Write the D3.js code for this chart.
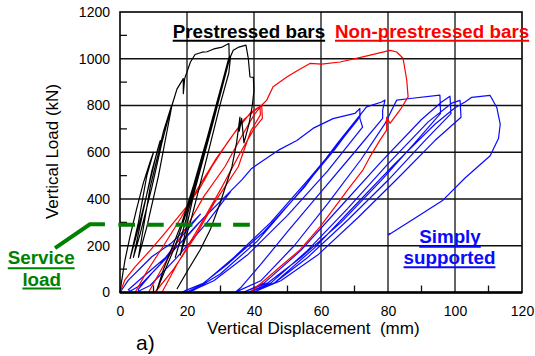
<!DOCTYPE html>
<html>
<head>
<meta charset="utf-8">
<script src="https://cdn.jsdelivr.net/npm/d3@7"></script>
<style>
  html, body { margin: 0; padding: 0; background: #fff; }
  svg { display: block; font-family: "Liberation Sans", Arial, sans-serif; }
</style>
</head>
<body>
<div id="chart"></div>
<script>
// Data: [vertical displacement (mm), vertical load (kN)]
const xTicks = [0, 20, 40, 60, 80, 100, 120];
const yTicks = [0, 200, 400, 600, 800, 1000, 1200];
const xMinorTicks = [10, 30, 50, 70, 90, 110];
const yMinorTicks = [100, 300, 500, 700, 900, 1100];

const serviceLoad = 290;
const serviceSpan = [-0.5, 39];
const serviceLeader = [[-19.4, 190], [-9, 292], [-4.5, 292]];

const prestressedBars = [
  [0, 0], [0.5, 50], [1.5, 140], [3, 240], [5, 360], [7, 470], [9, 560], [10, 600],
  [8, 500], [5.5, 300], [3, 145],
  [5, 250], [8, 420], [11, 600], [12, 650],
  [9.5, 520], [6.5, 320], [4, 150],
  [6, 250], [9.5, 450], [12.5, 640], [15.4, 800],
  [13, 690], [9, 450], [5.5, 150],
  [8, 280], [11.5, 500], [15.5, 800], [17, 870], [18.9, 915], [18.9, 851], [19.3, 915], [21, 985],
  [22.4, 1018], [24.5, 1028], [26, 1030], [28, 1042], [30.5, 1050], [32.5, 1065], [32.6, 1010],
  [30, 870], [26, 660], [22, 460], [18.5, 300], [15.5, 190], [13, 100], [11, 10],
  [13, 80], [16.5, 200], [20, 350], [24, 540], [28, 750], [31.5, 950], [32.8, 1010],
  [29, 800], [25, 580], [21, 380], [18.5, 250], [16.5, 150],
  [19.5, 300], [24, 540], [28, 750], [31.5, 950], [32.8, 1005],
  [28, 740], [22, 420], [18, 160],
  [21, 300], [26, 580], [30, 810], [32.5, 940], [33, 1010], [33.8, 1036], [35.5, 1050], [37.6, 1058],
  [38.3, 1001], [38.8, 922], [39.8, 920], [40, 865], [39.5, 800], [38.5, 720], [37, 640],
  [36.3, 745], [35.6, 690], [35.8, 750], [34.8, 640], [33.4, 537],
  [29.9, 383], [26.9, 267], [23.9, 182], [20.3, 96], [17, 15]
];

const nonPrestressedBars = [
  [0, 0], [1.5, 55], [4.5, 110], [9, 180], [13.4, 254], [19.9, 367], [24, 450], [27.4, 538],
  [32, 640], [37, 740], [41.8, 797], [41.9, 760],
  [39, 690], [35.3, 538], [28, 380], [22.4, 238], [16, 100], [10.4, 0],
  [8.5, 0], [12, 90], [16, 190], [19.9, 281], [25, 410], [31.3, 538], [36, 660], [40, 760],
  [42.3, 801], [42.5, 745],
  [40, 700], [36, 600], [30, 440], [24, 290], [17, 120], [12.5, 0],
  [4.5, 0], [8, 90], [13, 200], [18.4, 324], [23, 440], [28.4, 566], [34, 680], [39, 770],
  [42.3, 801], [43.8, 823], [45.7, 880], [49.8, 922], [53, 950], [56.7, 980], [60.2, 977],
  [65.7, 986], [72.5, 1008], [80.6, 1036], [82.6, 1029], [84.5, 1002], [85.6, 908], [86, 837],
  [83.6, 781], [80.6, 724], [79.6, 750], [79.6, 695], [77.6, 652], [74.6, 580], [72.5, 524],
  [68, 440], [65.7, 395], [59.7, 281], [53.7, 182], [47.8, 110], [43.8, 60], [38.8, 0]
];

const simplySupported = [
  [0, 0], [2.5, 53], [6.5, 110], [9.5, 153], [15.4, 212], [21.4, 297], [24, 335],
  [19, 250], [12, 120], [6, 30], [3, 5], [2.5, 12],
  [7.5, 75], [13.9, 153], [19.9, 238], [25, 320], [27.4, 353], [31.3, 409], [33, 432],
  [26, 300], [17, 150], [9, 30], [5.5, 5], [5.5, 14],
  [10, 90], [16, 180], [23, 290], [31.3, 409], [36.3, 481], [39.3, 531], [43.3, 570], [47.3, 609],
  [52.8, 650], [57.6, 702], [63.6, 744], [70.1, 766], [71.6, 787], [71.6, 745], [72.4, 708],
  [62, 520], [50, 330], [38, 160], [28, 50], [21, 5], [18.5, 0], [19.5, 8],
  [25, 40], [34, 150], [45, 300], [56, 480], [66, 650], [71, 740], [71.8, 760],
  [64, 610], [53, 420], [41, 220], [30, 80], [22, 10], [20, 2],
  [24, 30], [32, 120], [43, 260], [55, 450], [65, 640], [73.6, 794], [78.1, 815], [79.1, 823],
  [78.4, 780], [78.4, 745],
  [70, 600], [60, 430], [50, 260], [42, 120], [36, 20], [34.5, 2], [35.5, 8],
  [42, 50], [52, 200], [62, 380], [72, 570], [79, 720], [82.6, 823], [86.6, 830], [95.5, 844],
  [95.7, 766],
  [88, 640], [78, 480], [66, 300], [54, 150], [44, 40], [37, 2], [38, 8],
  [43, 40], [54, 180], [66, 370], [78, 560], [90, 740], [96, 815], [98.5, 840], [98.8, 765],
  [91, 650], [80, 480], [68, 310], [56, 150], [46, 40], [38.5, 2],
  [45, 40], [56, 180], [68, 360], [80, 550], [92, 730], [99, 810], [101.5, 822], [101.8, 750],
  [94, 650], [83, 490], [71, 320], [59, 160], [48, 50], [40, 2],
  [46, 40], [58, 190], [70, 370], [82, 550], [94, 720], [100, 790], [103, 815], [105, 835],
  [110.5, 843], [112.5, 790], [113.5, 720], [113, 660], [110.5, 585], [103, 490], [96.4, 395],
  [88, 318], [80.1, 246], [80.5, 254]
];

// Dimensions
const dimensions = {
  width: 535,
  height: 356,
  left: 120,
  right: 522,
  top: 12,
  bottom: 292.5,
};

// Draw Image
const svg = d3
  .select("#chart")
  .append("svg")
  .attr("width", dimensions.width)
  .attr("height", dimensions.height);

// Scales
const xScale = d3.scaleLinear().domain([0, 120]).range([dimensions.left, dimensions.right]);
const yScale = d3.scaleLinear().domain([0, 1200]).range([dimensions.bottom, dimensions.top]);

// Grid
const grid = svg.append("g").attr("stroke", "#111").attr("stroke-width", 1.3);
grid
  .selectAll("line.vx")
  .data(xTicks.slice(1, -1))
  .join("line")
  .attr("x1", (d) => xScale(d))
  .attr("x2", (d) => xScale(d))
  .attr("y1", dimensions.top)
  .attr("y2", dimensions.bottom);
grid
  .selectAll("line.hy")
  .data(yTicks.slice(1, -1))
  .join("line")
  .attr("class", "hy")
  .attr("x1", dimensions.left)
  .attr("x2", dimensions.right)
  .attr("y1", (d) => yScale(d))
  .attr("y2", (d) => yScale(d));

// minor ticks
grid
  .selectAll("line.mx")
  .data(xMinorTicks)
  .join("line")
  .attr("class", "mx")
  .attr("x1", (d) => xScale(d))
  .attr("x2", (d) => xScale(d))
  .attr("y1", dimensions.bottom)
  .attr("y2", dimensions.bottom - 7);
grid
  .selectAll("line.my")
  .data(yMinorTicks)
  .join("line")
  .attr("class", "my")
  .attr("x1", dimensions.left)
  .attr("x2", dimensions.left + 7)
  .attr("y1", (d) => yScale(d))
  .attr("y2", (d) => yScale(d));

// Curves
const lineGenerator = d3
  .line()
  .x((d) => xScale(d[0]))
  .y((d) => yScale(d[1]));

const curves = [
  { data: simplySupported, color: "#0a0aff" },
  { data: nonPrestressedBars, color: "#ff0000" },
  { data: prestressedBars, color: "#000000" },
];

svg
  .append("g")
  .selectAll("path")
  .data(curves)
  .join("path")
  .attr("d", (d) => lineGenerator(d.data))
  .attr("fill", "none")
  .attr("stroke", (d) => d.color)
  .attr("stroke-width", 1.2)
  .attr("stroke-linejoin", "round");

// Frame
svg
  .append("rect")
  .attr("x", dimensions.left)
  .attr("y", dimensions.top)
  .attr("width", dimensions.right - dimensions.left)
  .attr("height", dimensions.bottom - dimensions.top)
  .attr("fill", "none")
  .attr("stroke", "#000")
  .attr("stroke-width", 1.6);
svg
  .append("line")
  .attr("x1", dimensions.left)
  .attr("x2", dimensions.right)
  .attr("y1", dimensions.bottom)
  .attr("y2", dimensions.bottom)
  .attr("stroke", "#000")
  .attr("stroke-width", 2.6);

// Service load
svg
  .append("line")
  .attr("x1", xScale(serviceSpan[0]))
  .attr("x2", xScale(serviceSpan[1]))
  .attr("y1", yScale(serviceLoad))
  .attr("y2", yScale(serviceLoad))
  .attr("stroke", "#008000")
  .attr("stroke-width", 4)
  .attr("stroke-dasharray", "16.7,12");
svg
  .append("path")
  .datum(serviceLeader)
  .attr("d", lineGenerator)
  .attr("fill", "none")
  .attr("stroke", "#008000")
  .attr("stroke-width", 4);

// Axes
const xAxis = d3.axisBottom(xScale).tickValues(xTicks).tickSize(0).tickPadding(14);
const yAxis = d3
  .axisLeft(yScale)
  .tickValues(yTicks)
  .tickFormat(d3.format("d"))
  .tickSize(0)
  .tickPadding(10);

const gx = svg.append("g").attr("transform", `translate(0, ${dimensions.bottom})`).call(xAxis);
const gy = svg.append("g").attr("transform", `translate(${dimensions.left}, 0)`).call(yAxis);
[gx, gy].forEach((g) => {
  g.select(".domain").remove();
  g.selectAll("text").attr("font-size", 14).attr("fill", "#000").attr("font-family", null);
});

svg
  .append("text")
  .attr("x", 207)
  .attr("y", 334)
  .attr("font-size", 17)
  .attr("xml:space", "preserve")
  .text("Vertical Displacement  (mm)");

svg
  .append("text")
  .attr("transform", "translate(58, 151.5) rotate(-90)")
  .attr("text-anchor", "middle")
  .attr("font-size", 17)
  .text("Vertical Load (kN)");

svg.append("text").attr("x", 136).attr("y", 350).attr("font-size", 21).text("a)");

// Underlined labels
function label(text, x, y, color, anchor, underY) {
  const t = svg
    .append("text")
    .attr("x", x)
    .attr("y", y)
    .attr("font-size", 18.8)
    .attr("font-weight", "bold")
    .attr("fill", color)
    .attr("text-anchor", anchor)
    .text(text);
  const w = t.node().getComputedTextLength();
  const x0 = anchor === "middle" ? x - w / 2 : x;
  svg
    .append("line")
    .attr("x1", x0)
    .attr("x2", x0 + w)
    .attr("y1", underY)
    .attr("y2", underY)
    .attr("stroke", color)
    .attr("stroke-width", 2);
}

label("Prestressed bars", 172.7, 37.5, "#000", "start", 40.8);
label("Non-prestressed bars", 335, 37.5, "#ff0000", "start", 40.8);
label("Simply", 450, 243.3, "#0a0aff", "middle", 246.8);
label("supported", 449.5, 264, "#0a0aff", "middle", 267.3);
label("Service", 41.2, 264, "#008000", "middle", 268.3);
label("load", 41.7, 285.5, "#008000", "middle", 288.5);
</script>
</body>
</html>
